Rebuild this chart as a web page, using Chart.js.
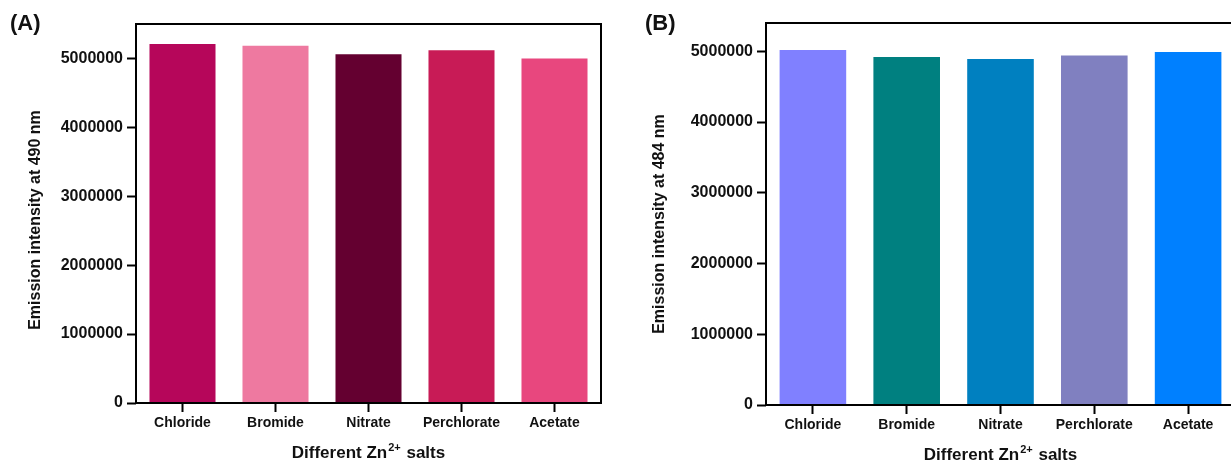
<!DOCTYPE html>
<html>
<head>
<meta charset="utf-8">
<script src="https://cdn.jsdelivr.net/npm/chart.js@4.4.1/dist/chart.umd.min.js"></script>
<style>
  html, body { margin: 0; padding: 0; background: #fff; width: 1231px; height: 463px; overflow: hidden; position: relative; }
  canvas { position: absolute; top: 0; }
  #chartA { left: 0; }
  #chartB { left: 620px; }
</style>
</head>
<body>
<canvas id="chartA" width="615" height="463"></canvas>
<canvas id="chartB" width="630" height="463"></canvas>
<script>
// Zn2+ salt series and the emission intensity measured for each
const salts = ['Chloride', 'Bromide', 'Nitrate', 'Perchlorate', 'Acetate'];
const emission490 = [5210000, 5185000, 5060000, 5120000, 5000000];
const emission484 = [5020000, 4920000, 4890000, 4940000, 4990000];
const colors490 = ['#B6065A', '#EE79A0', '#640030', '#C81B56', '#E8477E'];
const colors484 = ['#8080FF', '#008080', '#0080C0', '#8080C0', '#0080FF'];
const yTickValues = [0, 1000000, 2000000, 3000000, 4000000, 5000000];
const yMaxA = 5500000;
const yMaxB = 5400000;

const FAMILY = '"Liberation Sans", Arial, Helvetica, sans-serif';
const INK = '#111';

// Draws the closed frame, panel tag and both axis titles (x title carries a superscript)
const framePlugin = {
  id: 'frame',
  afterDraw(chart, args, o) {
    const { ctx, chartArea: a } = chart;
    ctx.save();
    ctx.strokeStyle = '#000';
    ctx.lineWidth = 2;
    ctx.strokeRect(a.left, a.top, a.right - a.left, a.bottom - a.top);

    ctx.fillStyle = INK;
    ctx.textAlign = 'left';
    ctx.textBaseline = 'middle';
    ctx.font = 'bold 22px ' + FAMILY;
    ctx.fillText(o.tag, o.tagX, 24);

    const big = 'bold 17px ' + FAMILY;
    const small = 'bold 11px ' + FAMILY;
    ctx.font = big;
    const w1 = ctx.measureText(o.xPre).width;
    const w3 = ctx.measureText(o.xPost).width;
    ctx.font = small;
    const w2 = ctx.measureText(o.xSup).width + 2;
    let x = (a.left + a.right) / 2 - (w1 + w2 + w3) / 2;
    ctx.textBaseline = 'alphabetic';
    ctx.font = big;
    ctx.fillText(o.xPre, x, o.xTitleY);
    x += w1;
    ctx.font = small;
    ctx.fillText(o.xSup, x + 1, o.xTitleY - 7);
    x += w2;
    ctx.font = big;
    ctx.fillText(o.xPost, x, o.xTitleY);

    ctx.translate(o.yTitleX, o.yTitleY);
    ctx.rotate(-Math.PI / 2);
    ctx.textAlign = 'center';
    ctx.textBaseline = 'middle';
    ctx.font = 'bold 16px ' + FAMILY;
    ctx.fillText(o.yTitle, 0, 0);
    ctx.restore();
  }
};

function tickGrid() {
  return {
    offset: false,
    drawOnChartArea: false,
    drawTicks: true,
    tickLength: 9,
    tickWidth: 2,
    tickColor: '#000',
    color: '#000'
  };
}

function makeChart(id, values, colors, yMax, dims, decor) {
  return new Chart(document.getElementById(id), {
    type: 'bar',
    data: {
      labels: salts,
      datasets: [{
        data: values,
        backgroundColor: colors,
        borderWidth: 0,
        barPercentage: 0.71,
        categoryPercentage: 1
      }]
    },
    options: {
      responsive: false,
      devicePixelRatio: 1,
      animation: false,
      layout: { padding: { left: 0, top: dims.top, right: dims.right, bottom: 0 } },
      plugins: {
        legend: { display: false },
        tooltip: { enabled: false },
        frame: decor
      },
      scales: {
        x: {
          grid: tickGrid(),
          border: { display: false },
          ticks: {
            color: INK,
            font: { family: FAMILY, size: 14, weight: 'bold' },
            padding: 3,
            maxRotation: 0,
            autoSkip: false
          },
          afterFit(s) { s.height = dims.xH; }
        },
        y: {
          min: 0,
          max: yMax,
          grid: tickGrid(),
          border: { display: false },
          ticks: {
            color: INK,
            font: { family: FAMILY, size: 16, weight: 'bold' },
            padding: 4,
            callback: v => String(v)
          },
          afterBuildTicks(s) { s.ticks = yTickValues.map(v => ({ value: v })); },
          afterFit(s) { s.width = dims.yW; }
        }
      }
    },
    plugins: [framePlugin]
  });
}

makeChart('chartA', emission490, colors490, yMaxA,
  { top: 24, right: 14, xH: 60, yW: 136 },
  { tag: '(A)', tagX: 10, xPre: 'Different Zn', xSup: '2+', xPost: ' salts', xTitleY: 458,
    yTitle: 'Emission intensity at 490 nm', yTitleX: 36, yTitleY: 220 });

makeChart('chartB', emission484, colors484, yMaxB,
  { top: 23, right: 15, xH: 58, yW: 146 },
  { tag: '(B)', tagX: 25, xPre: 'Different Zn', xSup: '2+', xPost: ' salts', xTitleY: 460,
    yTitle: 'Emission intensity at 484 nm', yTitleX: 40, yTitleY: 224 });
</script>
</body>
</html>
